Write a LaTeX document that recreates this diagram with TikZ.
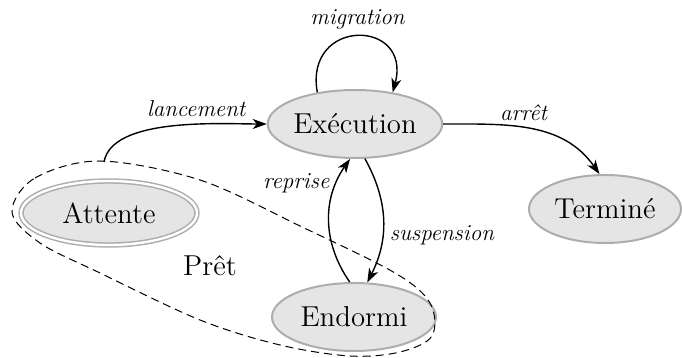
\documentclass[tikz,border=0pt]{standalone}
\usepackage{xcolor}
\usepackage{tikz}
\usetikzlibrary{shapes, arrows.meta, positioning, calc}
\definecolor{fondetat}{gray}{0.9}
\definecolor{bordetat}{gray}{0.68}
\tikzset{
    etat/.style={
        ellipse,
        line width=1pt,
        draw=bordetat,
        fill=fondetat,
        inner sep=0pt,
        minimum width=82pt,
        minimum height=34pt,
        font=\fontsize{14.4}{16}\selectfont,
    },
    etatdouble/.style={
        etat,
        line width=0.75pt,
        double=white,
        double distance=1.2pt,
        minimum width=88pt,
        minimum height=32pt,
    },
    lbl/.style={
        font=\fontsize{11.5}{13}\selectfont\itshape,
    },
}

\begin{document}
\begin{tikzpicture}[x=0.5pt, y=0.5pt, >={Stealth[length=7pt, width=5pt, inset=2pt]}, line width=0.7pt]
      \useasboundingbox (0,0) rectangle (682,358);
      \node [etat] (E) at (355,234) {Exécution};
      \node [etatdouble] (A) at (109,145) {Attente};
      \node [etat, minimum width=76pt] (T) at (605,149) {Terminé};
      \node [etat] (D) at (354,41) {Endormi};

      % groupe Pret
      \draw [line width=0.5pt, dash pattern=on 4pt off 2.5pt] plot [smooth cycle, tension=0.55]
        coordinates {(12,146) (35,180) (100,197) (200,178) (300,132) (395,85) (430,55)
                     (432,22) (400,6) (350,2) (280,13) (200,38) (100,85) (40,115)};
      \node [font=\fontsize{14.4}{16}\selectfont] (P) at (210,92) {Prêt};
      \coordinate (P-top) at (104,196);

      \path[->] (P-top) edge [out=80, in=180, looseness=0.7] node[lbl, above, pos=0.62] {lancement} (E.west);
      \path[->] (E.140) edge [out=100, in=75, looseness=2.6] node[lbl, above] {migration} (E.40);
      \path[->] (E.east) edge [out=0, in=125] node[lbl, above, pos=0.45] {arrêt} (T.99);
      \path[->] (D.97) edge [bend left=35] node[lbl, left, pos=0.8] {reprise} (E.262);
      \path[->] (E.286) edge [bend left=28] node[lbl, right, pos=0.62] {suspension} (D.69);
    \end{tikzpicture}
\end{document}
